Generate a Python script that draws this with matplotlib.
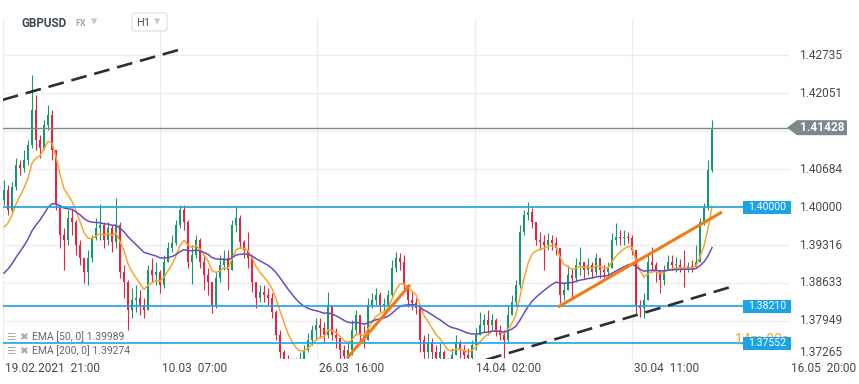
import numpy as np
import matplotlib.pyplot as plt
from matplotlib.patches import Polygon, Rectangle, FancyBboxPatch

plt.rcParams['font.family'] = ['Roboto', 'DejaVu Sans']

# GBPUSD H1 (한 캔들 = 약 7.5시간 묶음)
first_open = 1.4013
closes = [
    1.4031, 1.3995, 1.4036, 1.4076, 1.4070, 1.4085, 1.4112, 1.4175, 1.4121, 1.4106,
    1.4148, 1.4166, 1.4103, 1.4004, 1.3950, 1.3941, 1.3980, 1.3973, 1.3932, 1.3908,
    1.3883, 1.3908, 1.3944, 1.3962, 1.3968, 1.3941, 1.3962, 1.3937, 1.3968, 1.3883,
    1.3865, 1.3815, 1.3833, 1.3836, 1.3824, 1.3815, 1.3887, 1.3878, 1.3883, 1.3860,
    1.3901, 1.3926, 1.3935, 1.3968, 1.3995, 1.3973, 1.3901, 1.3914, 1.3941, 1.3901,
    1.3878, 1.3865, 1.3824, 1.3872, 1.3896, 1.3908, 1.3887, 1.3968, 1.3980, 1.3937,
    1.3923, 1.3908, 1.3865, 1.3836, 1.3847, 1.3842, 1.3836, 1.3811, 1.3770, 1.3739,
    1.3716, 1.3703, 1.3710, 1.3707, 1.3721, 1.3743, 1.3761, 1.3779, 1.3788, 1.3782,
    1.3770, 1.3824, 1.3770, 1.3764, 1.3743, 1.3732, 1.3743, 1.3779, 1.3806, 1.3770,
    1.3761, 1.3824, 1.3833, 1.3842, 1.3824, 1.3824, 1.3842, 1.3890, 1.3908, 1.3901,
    1.3860, 1.3833, 1.3827, 1.3818, 1.3761, 1.3739, 1.3757, 1.3739, 1.3729, 1.3739,
    1.3716, 1.3707, 1.3734, 1.3757, 1.3743, 1.3734, 1.3729, 1.3752, 1.3770, 1.3788,
    1.3797, 1.3788, 1.3797, 1.3779, 1.3770, 1.3761, 1.3806, 1.3829, 1.3860, 1.3955,
    1.3986, 1.3991, 1.3973, 1.3941, 1.3937, 1.3932, 1.3941, 1.3935, 1.3926, 1.3842,
    1.3851, 1.3878, 1.3872, 1.3896, 1.3901, 1.3887, 1.3896, 1.3883, 1.3908, 1.3887,
    1.3883, 1.3890, 1.3941, 1.3946, 1.3944, 1.3946, 1.3944, 1.3923, 1.3824, 1.3818,
    1.3833, 1.3901, 1.3896, 1.3887, 1.3869, 1.3887, 1.3901, 1.3896, 1.3896, 1.3892,
    1.3887, 1.3894, 1.3892, 1.3901, 1.3973, 1.3998, 1.4067, 1.4143]
highs = [
    1.4049, 1.4040, 1.4045, 1.4088, 1.4085, 1.4103, 1.4121, 1.4238, 1.4202, 1.4130,
    1.4157, 1.4184, 1.4175, 1.4103, 1.4004, 1.3962, 1.3995, 1.3998, 1.3977, 1.3941,
    1.3908, 1.3923, 1.3950, 1.3980, 1.4005, 1.3973, 1.3973, 1.3968, 1.4016, 1.3973,
    1.3896, 1.3869, 1.3854, 1.3860, 1.3851, 1.3836, 1.3896, 1.3908, 1.3901, 1.3887,
    1.3914, 1.3937, 1.3950, 1.3977, 1.4004, 1.4004, 1.3977, 1.3932, 1.3950, 1.3944,
    1.3914, 1.3890, 1.3860, 1.3883, 1.3914, 1.3923, 1.3923, 1.3977, 1.4002, 1.3986,
    1.3941, 1.3955, 1.3914, 1.3860, 1.3860, 1.3860, 1.3854, 1.3845, 1.3815, 1.3779,
    1.3743, 1.3734, 1.3729, 1.3729, 1.3739, 1.3752, 1.3773, 1.3788, 1.3800, 1.3800,
    1.3793, 1.3847, 1.3815, 1.3782, 1.3764, 1.3752, 1.3757, 1.3797, 1.3815, 1.3800,
    1.3788, 1.3836, 1.3845, 1.3854, 1.3847, 1.3836, 1.3851, 1.3905, 1.3919, 1.3917,
    1.3914, 1.3860, 1.3847, 1.3836, 1.3824, 1.3770, 1.3773, 1.3764, 1.3752, 1.3755,
    1.3743, 1.3729, 1.3746, 1.3770, 1.3761, 1.3752, 1.3746, 1.3761, 1.3782, 1.3811,
    1.3807, 1.3815, 1.3807, 1.3800, 1.3788, 1.3779, 1.3824, 1.3842, 1.3869, 1.3968,
    1.3995, 1.4009, 1.3998, 1.3973, 1.3955, 1.3950, 1.3953, 1.3950, 1.3946, 1.3926,
    1.3865, 1.3896, 1.3890, 1.3908, 1.3928, 1.3901, 1.3908, 1.3901, 1.3917, 1.3908,
    1.3896, 1.3901, 1.3953, 1.3971, 1.3959, 1.3959, 1.3955, 1.3950, 1.3914, 1.3833,
    1.3845, 1.3914, 1.3928, 1.3901, 1.3883, 1.3896, 1.3914, 1.3914, 1.3910, 1.3906,
    1.3923, 1.3901, 1.3905, 1.3932, 1.3980, 1.4007, 1.4085, 1.4157]
lows = [
    1.4004, 1.3986, 1.3991, 1.4031, 1.4058, 1.4063, 1.4076, 1.4106, 1.4103, 1.4088,
    1.4103, 1.4139, 1.4085, 1.3995, 1.3926, 1.3887, 1.3932, 1.3950, 1.3914, 1.3896,
    1.3863, 1.3860, 1.3901, 1.3941, 1.3941, 1.3926, 1.3932, 1.3919, 1.3926, 1.3872,
    1.3836, 1.3779, 1.3800, 1.3811, 1.3806, 1.3800, 1.3833, 1.3865, 1.3860, 1.3845,
    1.3854, 1.3901, 1.3919, 1.3932, 1.3962, 1.3959, 1.3890, 1.3861, 1.3908, 1.3890,
    1.3851, 1.3842, 1.3809, 1.3818, 1.3865, 1.3887, 1.3851, 1.3890, 1.3955, 1.3926,
    1.3908, 1.3890, 1.3847, 1.3818, 1.3829, 1.3829, 1.3824, 1.3800, 1.3761, 1.3729,
    1.3707, 1.3692, 1.3698, 1.3689, 1.3703, 1.3721, 1.3739, 1.3752, 1.3761, 1.3764,
    1.3757, 1.3764, 1.3761, 1.3746, 1.3725, 1.3716, 1.3721, 1.3734, 1.3770, 1.3757,
    1.3746, 1.3761, 1.3818, 1.3824, 1.3811, 1.3811, 1.3815, 1.3836, 1.3883, 1.3887,
    1.3847, 1.3820, 1.3815, 1.3807, 1.3739, 1.3721, 1.3729, 1.3721, 1.3710, 1.3721,
    1.3703, 1.3692, 1.3703, 1.3739, 1.3729, 1.3721, 1.3716, 1.3721, 1.3743, 1.3770,
    1.3775, 1.3770, 1.3779, 1.3768, 1.3761, 1.3729, 1.3757, 1.3815, 1.3824, 1.3854,
    1.3950, 1.3977, 1.3962, 1.3932, 1.3923, 1.3887, 1.3923, 1.3923, 1.3914, 1.3827,
    1.3833, 1.3851, 1.3838, 1.3865, 1.3878, 1.3872, 1.3878, 1.3872, 1.3878, 1.3872,
    1.3872, 1.3872, 1.3890, 1.3932, 1.3932, 1.3932, 1.3935, 1.3914, 1.3809, 1.3802,
    1.3800, 1.3833, 1.3883, 1.3865, 1.3845, 1.3860, 1.3887, 1.3887, 1.3883, 1.3883,
    1.3856, 1.3883, 1.3883, 1.3890, 1.3905, 1.3968, 1.3995, 1.4063]

# EMA 설정 (캔들 묶음 기준 기간), 시작값
ema_spans = [8, 30]
ema_seeds = [1.3964, 1.3881]
ema_labels = ['EMA [50, 0] 1.39989', 'EMA [200, 0] 1.39274']

levels = [1.40000, 1.38210, 1.37552]
level_labels = ['1.40000', '1.38210', '1.37552']
last_price = 1.41428
y_ticks = [1.37265, 1.37949, 1.38633, 1.39316, 1.40000, 1.40684, 1.41367, 1.42051, 1.42735]
x_labels = ['19.02.2021  21:00', '10.03  07:00', '26.03  16:00',
            '14.04  02:00', '30.04  11:00', '16.05  20:00']

# 추세선 (캔들 위치, 가격)
dash_top = ([0.7, 46.25], [1.4193, 1.4286])
dash_bottom = ([121.5, 184.0], [1.3725, 1.3859])
orange_1 = ([86.75, 102.5], [1.3728, 1.3860])
orange_2 = ([139.5, 180.5], [1.3820, 1.3991])

green, red = '#14996a', '#e8233f'
blue = '#1ba3e6'

W, H = 859, 384
fig = plt.figure(figsize=(W / 100, H / 100), dpi=100)
ax = fig.add_axes([2.75 / W, 25 / H, 786.25 / W, 341 / H])
ax.set_xlim(0.6875, 197.25)
ax.set_ylim(1.37265, 1.43402)
x_ticks = [0.6875 + 39.3125 * t for t in range(6)]
ax.set_xticks(x_ticks)
ax.set_yticks(y_ticks)
ax.tick_params(length=0, labelleft=False, labelbottom=False)
ax.grid(color='#ececec', lw=0.9, zorder=0)
for s in ax.spines.values():
    s.set_visible(False)

# 캔들
x = np.arange(1, len(closes) + 1)
c = np.array(closes)
o = np.r_[first_open, c[:-1]]
h = np.maximum(np.array(highs), np.maximum(o, c))
l = np.minimum(np.array(lows), np.minimum(o, c))
cols = np.where(c >= o, green, red)
ax.vlines(x, l, h, colors=cols, lw=0.8, zorder=2)
ax.bar(x, np.maximum(np.abs(c - o), 0.00008), bottom=np.minimum(o, c),
       width=0.55, color=cols, zorder=2)

# EMA 선
def ema(values, seed, span):
    a = 2 / (span + 1)
    out = [seed]
    for v in values[1:]:
        out.append(out[-1] + a * (v - out[-1]))
    return np.array(out)

ax.plot(x, ema(c, ema_seeds[0], ema_spans[0]), color='#f7a532', lw=1.1, zorder=3)
ax.plot(x, ema(c, ema_seeds[1], ema_spans[1]), color='#6a4dbd', lw=1.1, zorder=3)

# 수평선
ax.axhline(last_price, color='#7d878c', lw=1.0, zorder=3)
for lv in levels:
    ax.axhline(lv, color=blue, lw=1.2, zorder=3)

# 추세선
ax.plot(*dash_top, color='#2b2f33', lw=1.9, dashes=(6, 3), zorder=4)
ax.plot(*dash_bottom, color='#2b2f33', lw=1.9, dashes=(6, 3), zorder=4)
ax.plot(*orange_1, color='#f07c17', lw=2.2, zorder=4, solid_capstyle='butt')
ax.plot(*orange_2, color='#f07c17', lw=2.2, zorder=4, solid_capstyle='butt')

# 타이머 텍스트 (라벨 뒤에 일부 가려짐)
ty = ax.get_yaxis_transform()
ax.text((735 - 2.75) / 786.25, 1.37552 + 0.0006, '14m 00s', transform=ty,
        color='#f7a21b', fontsize=10, va='center', ha='left', zorder=5)

# 레벨 라벨 박스
for lv, lab in zip(levels, level_labels):
    ax.add_patch(Rectangle(((743 - 2.75) / 786.25, lv - 0.00117), 48 / 786.25, 0.00234,
                           transform=ty, facecolor=blue, edgecolor='none',
                           clip_on=False, zorder=6))
    ax.text((767 - 2.75) / 786.25, lv, lab, transform=ty, color='white',
            fontsize=7.6, ha='center', va='center', zorder=7, clip_on=False)

# y축 라벨 (현재가 마커에 가려지는 값은 생략)
for yt in y_ticks:
    if abs(yt - last_price) < 0.002:
        continue
    ax.text((799 - 2.75) / 786.25, yt, f'{yt:.5f}', transform=ty, color='#4a4a4a',
            fontsize=8.6, ha='left', va='bottom' if yt == y_ticks[0] else 'center',
            clip_on=False, zorder=3)

# 현재가 마커
dy = 0.00135
pts = [((787 - 2.75) / 786.25, last_price), ((797 - 2.75) / 786.25, last_price + dy),
       ((847 - 2.75) / 786.25, last_price + dy), ((847 - 2.75) / 786.25, last_price - dy),
       ((797 - 2.75) / 786.25, last_price - dy)]
ax.add_patch(Polygon(pts, closed=True, transform=ty, facecolor='#7d878c',
                     edgecolor='none', clip_on=False, zorder=8))
ax.text((822 - 2.75) / 786.25, last_price, f'{last_price:.5f}', transform=ty,
        color='white', fontsize=8.6, fontweight='bold', ha='center', va='center',
        clip_on=False, zorder=9)

# x축 라벨
for xt, lab in zip(x_ticks, x_labels):
    ax.annotate(lab, (xt, 0), xycoords=('data', 'axes fraction'), xytext=(2, -10),
                textcoords='offset pixels', color='#4a4a4a', fontsize=8.6,
                ha='left', va='center', annotation_clip=False)

# 헤더
def fx(px):
    return px / W

def fy(py):
    return 1 - py / H

fig.text(fx(21), fy(23.5), 'GBPUSD', fontsize=8.5, fontweight='bold', color='#3d4a53',
         va='center', ha='left')
fig.text(fx(75), fy(23.5), 'FX', fontsize=6.5, fontweight='bold', color='#a0aab0',
         va='center', ha='left')
fig.text(fx(91), fy(22), '▾', fontsize=9, color='#c2c8cc', va='center', ha='left',
         family=['DejaVu Sans'])
fig.add_artist(FancyBboxPatch((fx(132), fy(31)), 35 / W, 18 / H,
                              boxstyle='round,pad=0,rounding_size=0.004',
                              transform=fig.transFigure, facecolor='white',
                              edgecolor='#dddddd', lw=0.8))
fig.text(fx(136), fy(22.5), 'H1', fontsize=8, color='#555555', va='center', ha='left')
fig.text(fx(154), fy(22), '▾', fontsize=9, color='#c2c8cc', va='center', ha='left',
         family=['DejaVu Sans'])

# EMA 범례
for i, lab in enumerate(ema_labels):
    yy = 337 + 14 * i
    fig.text(fx(6), fy(yy), '☰', fontsize=7.5, color='#a8a8a8', va='center', ha='left',
             family=['DejaVu Sans'])
    fig.text(fx(19), fy(yy), '✖', fontsize=7.5, color='#a8a8a8', va='center', ha='left',
             family=['DejaVu Sans'])
    fig.text(fx(32), fy(yy), lab, fontsize=7.5, color='#666666', va='center', ha='left')

fig.savefig('out.png', dpi=100)
